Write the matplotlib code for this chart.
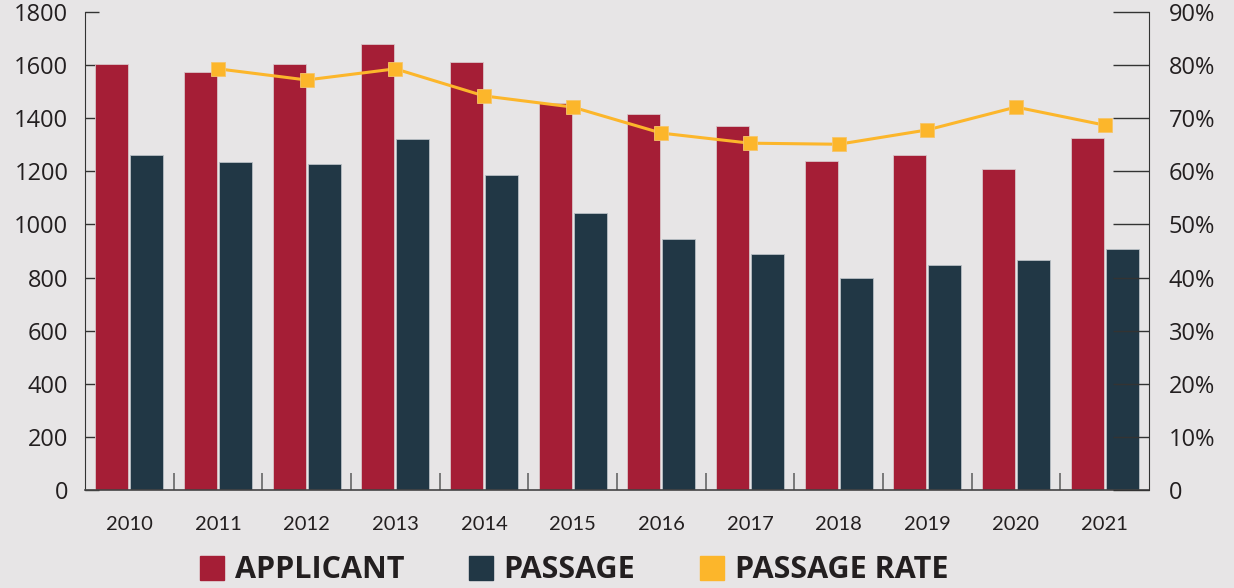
import matplotlib
matplotlib.use('Agg')
import matplotlib.pyplot as plt
from matplotlib.lines import Line2D
import numpy as np

# data
years = ['2010', '2011', '2012', '2013', '2014', '2015',
         '2016', '2017', '2018', '2019', '2020', '2021']
applicant = [1605, 1575, 1605, 1680, 1612, 1458, 1416, 1370, 1239, 1262, 1210, 1325]
passage = [1262, 1236, 1227, 1322, 1186, 1043, 945, 889, 798, 847, 866, 907]
# passage rate (%) starts in 2011
rate_years = years[1:]
rate = [79.3, 77.2, 79.3, 74.2, 72.1, 67.2, 65.3, 65.1, 67.8, 72.1, 68.7]

bg = '#e7e5e6'
red = '#a51e36'
navy = '#213745'
gold = '#fcb62b'
txt = '#231f20'

fig = plt.figure(figsize=(12.34, 5.88), dpi=100, facecolor=bg)
ax = fig.add_axes([85/1234, 1 - 490/588, (1149 - 85)/1234, (490 - 12)/588])
ax.set_facecolor(bg)

x = np.arange(len(years))
w = 0.372
ax.bar(x - 0.197, applicant, w, color=red, edgecolor='#d9c4c8', linewidth=0.6, zorder=2)
ax.bar(x + 0.197, passage, w, color=navy, edgecolor='#b8bfc4', linewidth=0.6, zorder=2)

ax.set_xlim(-0.5, len(years) - 0.5)
ax.set_ylim(0, 1800)
ax.set_yticks(range(0, 1801, 200))
ax.tick_params(axis='y', direction='in', length=10, width=1, color='#333333',
               pad=12, labelsize=17, labelcolor=txt)
ax.set_xticks(x)
ax.set_xticklabels(years, fontsize=14.5, color=txt, family='Lato')
ax.tick_params(axis='x', which='major', length=0, pad=19)
ax.set_xticks(x[:-1] + 0.5, minor=True)
ax.tick_params(axis='x', which='minor', direction='in', length=12, width=1.2, color='#666666')
for lab in ax.get_yticklabels():
    lab.set_family('Open Sans')

ax.spines['top'].set_visible(False)
ax.spines['right'].set_visible(False)
ax.spines['left'].set_color('#333333')
ax.spines['bottom'].set_color('#444444')
ax.spines['bottom'].set_linewidth(1.2)

ax2 = ax.twinx()
pos = [years.index(y) for y in rate_years]
ax2.plot(pos, rate, color=gold, linewidth=2.2, marker='s', markersize=10,
         markeredgecolor='#f6c56a', markeredgewidth=0.6, zorder=3)
ax2.set_ylim(0, 90)
ax2.set_yticks(range(0, 91, 10))
ax2.set_yticklabels([f'{v}%' if v else '0' for v in range(0, 91, 10)],
                    family='Open Sans')
ax2.tick_params(axis='y', direction='in', length=26, width=1, color='#333333',
                pad=14, labelsize=17, labelcolor=txt)
for s in ['top', 'left', 'bottom']:
    ax2.spines[s].set_visible(False)
ax2.spines['right'].set_color('#333333')

handles = [Line2D([], [], marker='s', linestyle='none', markersize=17.5, color=c)
           for c in (red, navy, gold)]
fig.legend(handles, ['APPLICANT', 'PASSAGE', 'PASSAGE RATE'],
           loc='lower center', bbox_to_anchor=(574/1234, -0.042), ncol=3,
           frameon=False, handlelength=0.8, handletextpad=0.35, columnspacing=2.1,
           prop={'family': 'Open Sans', 'weight': 'bold', 'size': 22},
           labelcolor=txt)

fig.savefig('out.png', dpi=100, facecolor=bg)
